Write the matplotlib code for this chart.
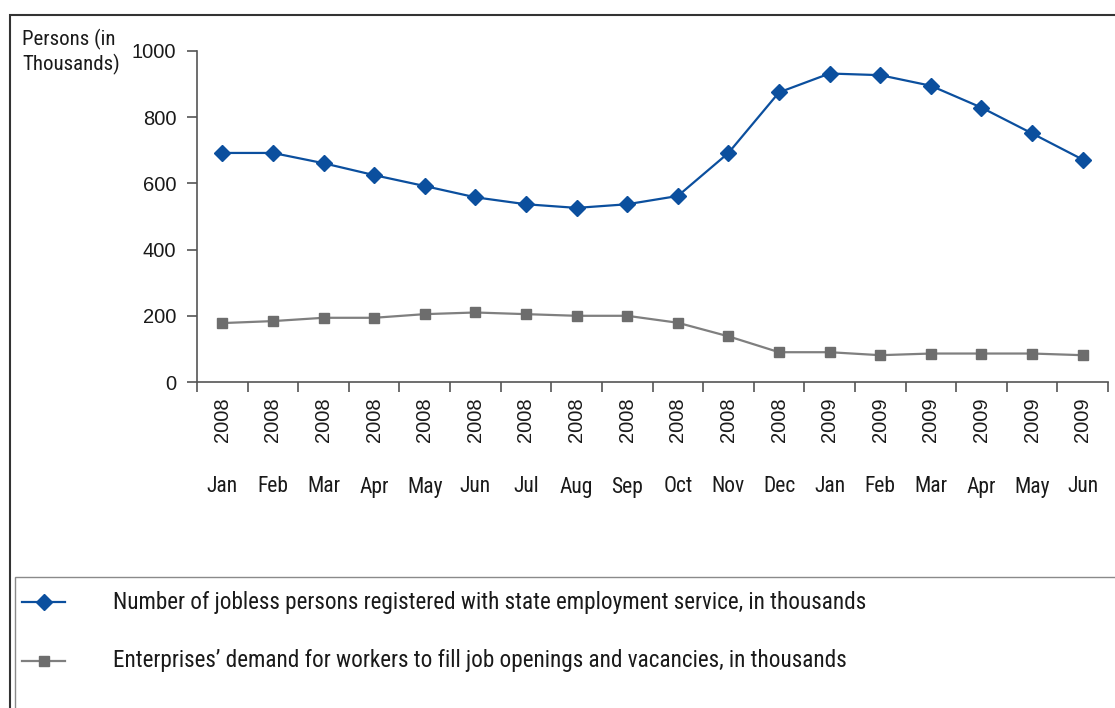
import matplotlib
matplotlib.use("Agg")
import matplotlib.pyplot as plt
import matplotlib.transforms as mtransforms
from matplotlib.patches import Rectangle
from matplotlib.lines import Line2D

# data
months = ["Jan", "Feb", "Mar", "Apr", "May", "Jun", "Jul", "Aug", "Sep", "Oct", "Nov", "Dec",
          "Jan", "Feb", "Mar", "Apr", "May", "Jun"]
years = ["2008"] * 12 + ["2009"] * 6
jobless = [692, 692, 661, 625, 592, 558, 537, 526, 537, 562, 692, 875,
           932, 927, 895, 829, 751, 672]
demand = [178, 184, 194, 194, 205, 210, 205, 200, 200, 179, 138, 90,
          90, 81, 86, 86, 86, 81]

label_jobless = "Number of jobless persons registered with state employment service, in thousands"
label_demand = "Enterprises\u2019 demand for workers to fill job openings and vacancies, in thousands"

narrow = "Roboto Condensed"
regular = "Liberation Sans"
blue = "#0b4f9e"
grey_line = "#7f7f7f"
grey_mark = "#6d6d6d"
axis_col = "#555555"
txt = "#1a1a1a"

W, H = 1115, 708
fig = plt.figure(figsize=(W / 100, H / 100), dpi=100)

# outer frame and legend box (both run off the right/bottom edge)
fig.patches.append(Rectangle((10 / W, -0.1), 1.2, 1 - 15 / H + 0.1, transform=fig.transFigure,
                             fill=False, edgecolor="#333333", linewidth=1.5))
fig.patches.append(Rectangle((15 / W, -0.1), 1.2, 1 - 577 / H + 0.1, transform=fig.transFigure,
                             fill=False, edgecolor="#8a8a8a", linewidth=1.0))

ax = fig.add_axes([197 / W, 1 - 382 / H, (1108 - 197) / W, (382 - 51) / H])
x = list(range(len(months)))
ax.plot(x, jobless, color=blue, linewidth=1.6, marker="D", markersize=8.5,
        markeredgecolor=blue)
ax.plot(x, demand, color=grey_line, linewidth=1.6, marker="s", markersize=7.5,
        markerfacecolor=grey_mark, markeredgecolor=grey_mark)

ax.set_xlim(-0.5, len(months) - 0.5)
ax.set_ylim(0, 1000)
for s in ["top", "right"]:
    ax.spines[s].set_visible(False)
for s in ["left", "bottom"]:
    ax.spines[s].set_color(axis_col)
    ax.spines[s].set_linewidth(1.2)

ax.set_yticks([0, 200, 400, 600, 800, 1000])
ax.tick_params(axis="y", length=7, width=1.2, color=axis_col, pad=8, labelsize=14.5)
for t in ax.get_yticklabels():
    t.set_family(regular)
    t.set_color(txt)

ax.set_xticks([i - 0.5 for i in range(len(months) + 1)])
ax.set_xticklabels([])
ax.tick_params(axis="x", length=7, width=1.2, color=axis_col, direction="out")

trans = mtransforms.blended_transform_factory(ax.transData, fig.transFigure)
for i in x:
    ax.text(i, 1 - 397 / H, years[i], transform=trans, rotation=90, ha="center", va="top",
            fontsize=14.5, family=regular, color=txt)
    ax.text(i, 1 - 487 / H, months[i], transform=trans, ha="center", va="center",
            fontsize=15.5, family=narrow, color=txt)

fig.text(22 / W, 1 - 29 / H, "Persons (in\nThousands)", ha="left", va="top",
         fontsize=15, family=narrow, color=txt, linespacing=1.25)

# legend drawn by hand so it sits where the reference has it
entries = [(label_jobless, blue, blue, "D", 8, 602),
           (label_demand, grey_line, grey_mark, "s", 7.5, 661)]
for label, lc, mc, mk, ms, ypix in entries:
    yf = 1 - ypix / H
    fig.add_artist(Line2D([22 / W, 65 / W], [yf, yf], transform=fig.transFigure,
                          color=lc, linewidth=1.6))
    fig.add_artist(Line2D([43.5 / W], [yf], transform=fig.transFigure, linestyle="none",
                          marker=mk, markersize=ms, color=mc))
    fig.text(113 / W, yf, label, ha="left", va="center", fontsize=16.7,
             family=narrow, color=txt)

fig.savefig("out.png", dpi=100)
